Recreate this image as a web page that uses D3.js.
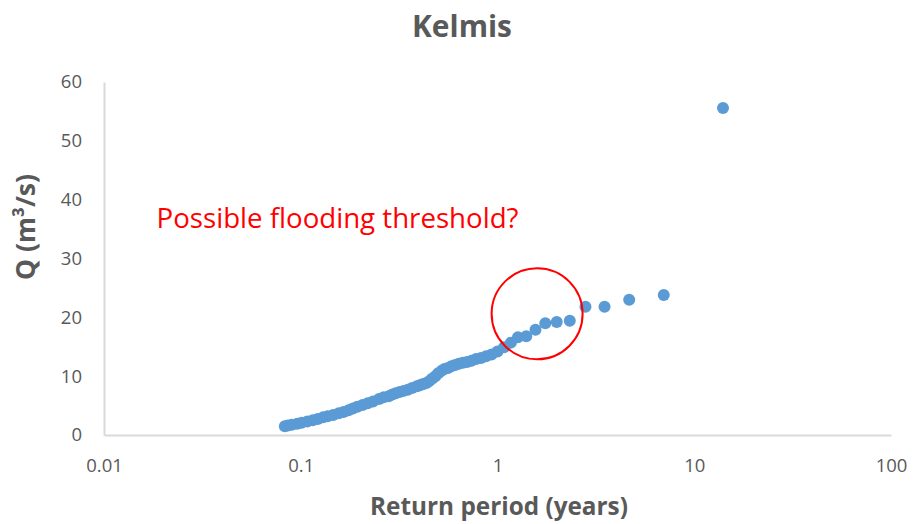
<!DOCTYPE html>
<html>
<head>
<meta charset="utf-8">
<script src="https://cdn.jsdelivr.net/npm/d3@7"></script>
<style>
  html, body { margin: 0; padding: 0; background: #ffffff; }
  svg { display: block; }
</style>
</head>
<body>
<svg id="chart" width="917" height="524"></svg>
<script>
// ---- data ----
const chartTitle = "Kelmis";
const xAxisTitle = "Return period (years)";
const yAxisTitle = "Q (m³/s)";
const annotationText = "Possible flooding threshold?";

// return period (years)
const returnPeriod = [
  14, 7, 4.67, 3.5, 2.8, 2.33, 2.0, 1.75, 1.56, 1.4, 1.27, 1.17, 1.08,
  1.0, 0.933, 0.875, 0.824, 0.778, 0.737, 0.700, 0.667, 0.636, 0.609,
  0.583, 0.560, 0.538, 0.519, 0.500, 0.483, 0.467, 0.452, 0.438, 0.424,
  0.412, 0.400, 0.389, 0.368, 0.350, 0.333, 0.318, 0.304, 0.292, 0.280,
  0.264, 0.250, 0.233, 0.219, 0.206, 0.194, 0.184, 0.175, 0.165, 0.156,
  0.146, 0.137, 0.130, 0.122, 0.115, 0.108, 0.101, 0.096, 0.090, 0.086, 0.083
];
// discharge Q (m3/s)
const discharge = [
  55.6, 23.8, 23.0, 21.8, 21.8, 19.4, 19.2, 19.0, 17.9, 16.8, 16.6, 15.7, 14.9,
  14.2, 13.7, 13.4, 13.1, 12.9, 12.6, 12.4, 12.3, 12.1, 11.9,
  11.7, 11.4, 11.2, 10.9, 10.5, 10.0, 9.6, 9.2, 8.9, 8.7,
  8.6, 8.4, 8.3, 8.0, 7.7, 7.5, 7.3, 7.1, 6.9, 6.6,
  6.4, 6.1, 5.7, 5.4, 5.1, 4.8, 4.5, 4.2, 3.9, 3.7,
  3.4, 3.2, 3.0, 2.7, 2.5, 2.3, 2.1, 1.9, 1.75, 1.6, 1.5
];

const xTickValues = [0.01, 0.1, 1, 10, 100];
const xTickLabels = ["0.01", "0.1", "1", "10", "100"];
const yTickValues = [0, 10, 20, 30, 40, 50, 60];
const yTickLabels = ["0", "10", "20", "30", "40", "50", "60"];

// annotation: circled region (data coords) and label anchor (data coords)
const circleCenter = [1.59, 20.6];
const labelAnchor = [0.0185, 35.2];

// ---- layout ----
const svg = d3.select("#chart");
const W = 917, H = 524;
const margin = { left: 104, right: 26, top: 82, bottom: 89 };
const x = d3.scaleLog().domain([0.01, 100]).range([margin.left, W - margin.right]);
const y = d3.scaleLinear().domain([0, 60]).range([H - margin.bottom, margin.top]);

const gray = "#595959";
const axisGray = "#d9d9d9";
const font = "'Open Sans', 'DejaVu Sans', sans-serif";

function fit(sel, targetWidth) {
  const node = sel.node();
  const size = parseFloat(sel.attr("font-size"));
  const w = node.getComputedTextLength();
  if (w > 0) sel.attr("font-size", (size * targetWidth / w).toFixed(2));
  return sel;
}

// title
fit(svg.append("text")
  .attr("x", 462).attr("y", 37)
  .attr("text-anchor", "middle")
  .attr("font-family", font).attr("font-weight", "bold")
  .attr("font-size", 30).attr("fill", gray)
  .text(chartTitle), 100);

// x axis
const xAxis = d3.axisBottom(x)
  .tickValues(xTickValues)
  .tickFormat((d, i) => xTickLabels[i])
  .tickSize(0).tickPadding(24);
const gx = svg.append("g")
  .attr("transform", `translate(0,${y(0)})`)
  .call(xAxis);
gx.select(".domain").attr("stroke", axisGray).attr("stroke-width", 2);
gx.selectAll("text").attr("font-family", font).attr("font-size", 18.5).attr("fill", gray);

// y axis
const yAxis = d3.axisLeft(y)
  .tickValues(yTickValues)
  .tickFormat((d, i) => yTickLabels[i])
  .tickSize(0).tickPadding(22);
const gy = svg.append("g")
  .attr("transform", `translate(${x(0.01)},0)`)
  .call(yAxis);
gy.select(".domain").attr("stroke", axisGray).attr("stroke-width", 2);
gy.selectAll("text").attr("font-family", font).attr("font-size", 18.5).attr("fill", gray);

// axis titles
fit(svg.append("text")
  .attr("x", 499).attr("y", 515)
  .attr("text-anchor", "middle")
  .attr("font-family", font).attr("font-weight", "bold")
  .attr("font-size", 22).attr("fill", gray)
  .text(xAxisTitle), 258);

fit(svg.append("text")
  .attr("transform", "translate(35,227) rotate(-90)")
  .attr("text-anchor", "middle")
  .attr("font-family", font).attr("font-weight", "bold")
  .attr("font-size", 22).attr("fill", gray)
  .text(yAxisTitle), 106);

// points
const pts = returnPeriod.map((t, i) => ({ t, q: discharge[i] }));
svg.append("g").selectAll("circle")
  .data(pts)
  .join("circle")
  .attr("cx", d => x(d.t))
  .attr("cy", d => y(d.q))
  .attr("r", 6)
  .attr("fill", "#5b9bd5");

// annotation
svg.append("circle")
  .attr("cx", x(circleCenter[0]))
  .attr("cy", y(circleCenter[1]))
  .attr("r", 45.5)
  .attr("fill", "none")
  .attr("stroke", "#ff0000")
  .attr("stroke-width", 2);

fit(svg.append("text")
  .attr("x", x(labelAnchor[0])).attr("y", y(labelAnchor[1]))
  .attr("font-family", font)
  .attr("font-size", 24).attr("fill", "#ff0000")
  .text(annotationText), 362);
</script>
</body>
</html>
